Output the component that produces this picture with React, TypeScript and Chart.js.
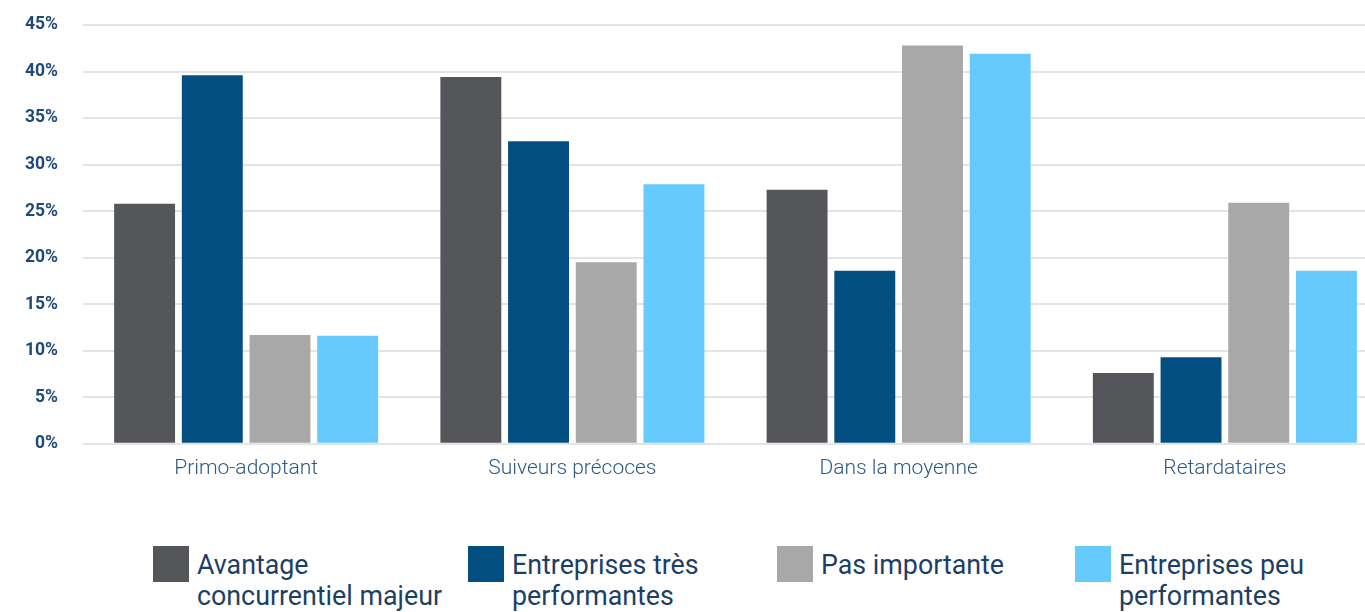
import React, { useEffect, useRef } from "react";
import { Chart, registerables } from "chart.js";

Chart.register(...registerables);

const categories = ["Primo-adoptant", "Suiveurs précoces", "Dans la moyenne", "Retardataires"];
const seriesNames = [
  ["Avantage", "concurrentiel majeur"],
  ["Entreprises très", "performantes"],
  ["Pas importante"],
  ["Entreprises peu", "performantes"],
];
const avantageMajeur = [25.8, 39.4, 27.3, 7.6];
const tresPerformantes = [39.6, 32.5, 18.6, 9.3];
const pasImportante = [11.7, 19.5, 42.8, 25.9];
const peuPerformantes = [11.6, 27.9, 41.9, 18.6];
const seriesColors = ["#545659", "#044f82", "#a8a8a8", "#66caff"];
const yTicks = [0, 5, 10, 15, 20, 25, 30, 35, 40, 45];

const legendX = [153, 468, 777, 1075];

export default function App() {
  const ref = useRef<HTMLCanvasElement | null>(null);

  useEffect(() => {
    if (!ref.current) return;
    const values = [avantageMajeur, tresPerformantes, pasImportante, peuPerformantes];
    const chart = new Chart(ref.current, {
      type: "bar",
      data: {
        labels: categories,
        datasets: values.map((v, i) => ({
          label: seriesNames[i].join(" "),
          data: v,
          backgroundColor: seriesColors[i],
          borderWidth: 0,
          barPercentage: 0.9,
          categoryPercentage: 0.83,
        })),
      },
      options: {
        responsive: false,
        animation: false,
        layout: { padding: { left: 0, top: 25, right: 2, bottom: 16 } },
        plugins: { legend: { display: false }, tooltip: { enabled: false } },
        scales: {
          x: {
            grid: { display: false, drawTicks: false },
            border: { display: false },
            ticks: {
              padding: 12,
              color: "#2d5a85",
              font: { family: "Roboto", size: 21, weight: "300" },
            },
          },
          y: {
            min: 0,
            max: 45,
            afterBuildTicks: (axis: any) => {
              axis.ticks = yTicks.map((v) => ({ value: v }));
            },
            afterFit: (scale: any) => {
              scale.paddingTop = 0;
              scale.paddingBottom = 0;
            },
            grid: { color: "#e4e4e4", lineWidth: 2, drawTicks: false },
            border: { display: false },
            ticks: {
              padding: 25,
              color: "#1e4a7a",
              font: { family: "Roboto", size: 17.5, weight: "bold" },
              callback: (v: any) => v + "%",
            },
          },
        },
      },
    });
    return () => chart.destroy();
  }, []);

  return (
    <div
      style={{
        position: "absolute",
        left: 0,
        top: 0,
        width: 1365,
        height: 612,
        overflow: "hidden",
        background: "#fff",
      }}
    >
      <canvas ref={ref} width={1390} height={509} style={{ display: "block" }} />
      {seriesNames.map((lines, i) => (
        <div key={i}>
          <div
            style={{
              position: "absolute",
              left: legendX[i],
              top: 546,
              width: 36,
              height: 36,
              background: seriesColors[i],
            }}
          />
          <div
            style={{
              position: "absolute",
              left: legendX[i] + 44,
              top: 550,
              fontFamily: "Roboto",
              fontSize: 26.8,
              lineHeight: "31px",
              color: "#1d3f66",
              whiteSpace: "nowrap",
            }}
          >
            {lines.map((l, j) => (
              <div key={j}>{l}</div>
            ))}
          </div>
        </div>
      ))}
    </div>
  );
}
